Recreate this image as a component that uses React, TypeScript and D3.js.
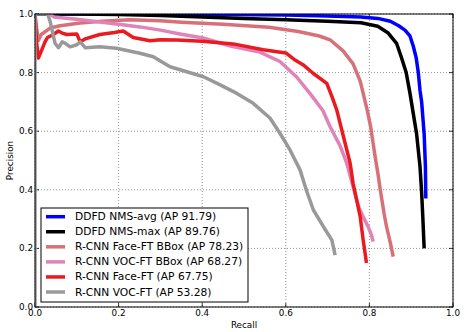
import React from "react";
import * as d3 from "d3";

const seriesNames = [
  "DDFD NMS-avg (AP 91.79)",
  "DDFD NMS-max (AP 89.76)",
  "R-CNN Face-FT BBox (AP 78.23)",
  "R-CNN VOC-FT BBox (AP 68.27)",
  "R-CNN Face-FT (AP 67.75)",
  "R-CNN VOC-FT (AP 53.28)",
];
const seriesColors = ["#0000ff", "#000000", "#d8707a", "#e083b8", "#ea1a20", "#999999"];

const nmsAvg: [number, number][] = [
  [0, 1.0], [0.3, 1.0], [0.6, 0.997], [0.7, 0.993], [0.78, 0.99], [0.82, 0.985], [0.85, 0.975],
  [0.87, 0.96], [0.885, 0.945], [0.897, 0.925], [0.905, 0.89], [0.912, 0.85], [0.917, 0.8],
  [0.921, 0.74], [0.925, 0.7], [0.931, 0.59], [0.934, 0.48], [0.935, 0.37],
];
const nmsMax: [number, number][] = [
  [0, 1.0], [0.1, 1.0], [0.2, 0.998], [0.3, 0.995], [0.4, 0.99], [0.5, 0.985], [0.6, 0.98],
  [0.7, 0.975], [0.78, 0.97], [0.82, 0.958], [0.845, 0.935], [0.865, 0.9], [0.877, 0.85],
  [0.888, 0.8], [0.897, 0.73], [0.905, 0.66], [0.913, 0.59], [0.921, 0.48], [0.925, 0.39],
  [0.928, 0.3], [0.931, 0.2],
];
const faceBBox: [number, number][] = [
  [0, 1.0], [0.004, 0.95], [0.008, 0.91], [0.015, 0.93], [0.036, 0.952], [0.06, 0.96],
  [0.108, 0.969], [0.16, 0.975], [0.227, 0.98], [0.3, 0.977], [0.35, 0.972], [0.45, 0.965],
  [0.56, 0.955], [0.63, 0.94], [0.68, 0.925], [0.706, 0.912], [0.737, 0.874], [0.761, 0.83],
  [0.778, 0.771], [0.785, 0.73], [0.795, 0.67], [0.803, 0.615], [0.813, 0.52], [0.821, 0.45],
  [0.826, 0.4], [0.835, 0.32], [0.841, 0.274], [0.85, 0.22], [0.857, 0.172],
];
const vocBBox: [number, number][] = [
  [0.035, 1.0], [0.045, 0.99], [0.1, 0.982], [0.155, 0.973], [0.2, 0.965], [0.251, 0.956],
  [0.3, 0.945], [0.347, 0.932], [0.402, 0.918], [0.47, 0.89], [0.538, 0.87], [0.586, 0.838],
  [0.626, 0.785], [0.66, 0.725], [0.689, 0.67], [0.706, 0.615], [0.73, 0.55], [0.746, 0.49],
  [0.761, 0.41], [0.775, 0.34], [0.786, 0.305], [0.797, 0.274], [0.805, 0.245], [0.809, 0.223],
];
const faceFT: [number, number][] = [
  [0, 1.0], [0.004, 0.9], [0.008, 0.85], [0.014, 0.87], [0.024, 0.905], [0.03, 0.92],
  [0.044, 0.93], [0.056, 0.942], [0.065, 0.935], [0.076, 0.93], [0.1, 0.932], [0.108, 0.905],
  [0.12, 0.915], [0.155, 0.93], [0.19, 0.937], [0.211, 0.942], [0.235, 0.92], [0.275, 0.909],
  [0.3, 0.912], [0.339, 0.911], [0.4, 0.907], [0.474, 0.898], [0.546, 0.878], [0.6, 0.867],
  [0.62, 0.845], [0.641, 0.827], [0.666, 0.797], [0.698, 0.763], [0.71, 0.72], [0.722, 0.672],
  [0.738, 0.581], [0.746, 0.536], [0.754, 0.49], [0.761, 0.422], [0.778, 0.308], [0.785, 0.23],
  [0.793, 0.15],
];
const vocFT: [number, number][] = [
  [0, 0.0], [0, 1.0], [0.03, 1.0], [0.036, 0.976], [0.048, 0.9], [0.056, 0.885], [0.065, 0.905],
  [0.072, 0.9], [0.084, 0.888], [0.1, 0.895], [0.108, 0.905], [0.12, 0.885], [0.155, 0.888],
  [0.195, 0.883], [0.251, 0.866], [0.283, 0.854], [0.323, 0.82], [0.363, 0.803], [0.403, 0.786],
  [0.443, 0.758], [0.483, 0.729], [0.522, 0.695], [0.562, 0.645], [0.586, 0.593], [0.61, 0.536],
  [0.634, 0.468], [0.65, 0.395], [0.666, 0.331], [0.69, 0.274], [0.71, 0.229], [0.718, 0.177],
];
const allSeries = [nmsAvg, nmsMax, faceBBox, vocBBox, faceFT, vocFT];

const tickValues = [0, 0.2, 0.4, 0.6, 0.8, 1.0];
const tickLabels = ["0.0", "0.2", "0.4", "0.6", "0.8", "1.0"];

const W = 470, H = 332;
const L = 35, R = 453, T = 14, B = 307;
const FONT = "DejaVu Sans, sans-serif";

export default function App() {
  const x = d3.scaleLinear().domain([0, 1]).range([L, R]);
  const y = d3.scaleLinear().domain([0, 1]).range([B, T]);
  const line = d3.line<[number, number]>().x(d => x(d[0])).y(d => y(d[1]));

  const legX = 41, legY = 208, legW = 207, legH = 94;
  return (
    <svg width={W} height={H} style={{ position: "absolute", left: 0, top: 0, background: "#fff" }}
      fontFamily={FONT}>
      <defs>
        <clipPath id="plotclip">
          <rect x={L} y={T} width={R - L} height={B - T} />
        </clipPath>
      </defs>
      <rect x={0} y={0} width={W} height={H} fill="#fff" />
      {/* grid */}
      {tickValues.map((t, i) => (
        <g key={"g" + i}>
          <line x1={x(t)} x2={x(t)} y1={T} y2={B} stroke="#777" strokeWidth={0.8} strokeDasharray="1,2" />
          <line x1={L} x2={R} y1={y(t)} y2={y(t)} stroke="#777" strokeWidth={0.8} strokeDasharray="1,2" />
        </g>
      ))}
      {/* ticks inside */}
      {tickValues.map((t, i) => (
        <g key={"t" + i} stroke="#000" strokeWidth={0.8}>
          <line x1={x(t)} x2={x(t)} y1={B} y2={B - 4} />
          <line x1={x(t)} x2={x(t)} y1={T} y2={T + 4} />
          <line x1={L} x2={L + 4} y1={y(t)} y2={y(t)} />
          <line x1={R} x2={R - 4} y1={y(t)} y2={y(t)} />
        </g>
      ))}
      {/* curves */}
      <g clipPath="url(#plotclip)">
        {allSeries.map((s, i) => (
          <path key={"s" + i} d={line(s) || ""} fill="none" stroke={seriesColors[i]}
            strokeWidth={3.5} strokeLinejoin="round" strokeLinecap="butt" />
        ))}
      </g>
      {/* frame */}
      <rect x={L} y={T} width={R - L} height={B - T} fill="none" stroke="#000" strokeWidth={1} />
      {/* tick labels */}
      {tickValues.map((t, i) => (
        <text key={"xl" + i} x={x(t)} y={316} fontSize={8.8} textAnchor="middle">{tickLabels[i]}</text>
      ))}
      {tickValues.map((t, i) => (
        <text key={"yl" + i} x={L - 2} y={y(t)} fontSize={8.8} textAnchor="end" dominantBaseline="central">{tickLabels[i]}</text>
      ))}
      <text x={(L + R) / 2} y={328} fontSize={8.8} textAnchor="middle">Recall</text>
      <text x={0} y={0} fontSize={8.8} textAnchor="middle"
        transform={`translate(13,${(T + B) / 2}) rotate(-90)`}>Precision</text>
      {/* legend */}
      <rect x={legX} y={legY} width={legW} height={legH} fill="#fff" stroke="#000" strokeWidth={1} />
      {seriesNames.map((n, i) => {
        const cy = 216.7 + i * 15.06;
        return (
          <g key={"lg" + i}>
            <line x1={46} x2={65} y1={cy} y2={cy} stroke={seriesColors[i]} strokeWidth={3.5} />
            <text x={75} y={cy} fontSize={10.7} dominantBaseline="central">{n}</text>
          </g>
        );
      })}
    </svg>
  );
}
